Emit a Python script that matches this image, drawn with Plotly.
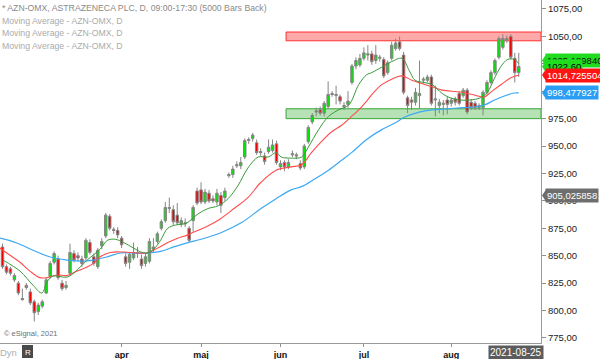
import pandas as pd
import plotly.graph_objects as go

# ---------------- data ----------------
holidays = ["2021-04-02", "2021-04-05", "2021-05-13", "2021-06-25"]
dates = [d for d in pd.bdate_range("2021-02-18", "2021-08-25") if d.strftime("%Y-%m-%d") not in holidays]

opens = [858, 840, 838, 828, 825, 811, 823, 817, 808, 799, 804, 816, 831, 844, 847, 825, 821, 834, 852, 850,
         847, 848, 862, 849, 840, 859, 868, 886, 874, 873, 866, 849, 844, 848, 852, 847, 843, 845, 856, 863,
         875, 882, 893, 892, 887, 879, 879, 875, 882, 909, 910, 899, 907, 902, 899, 905, 903, 923, 924, 932,
         932, 940, 955, 957, 953, 945, 941, 945, 946, 952, 931, 935, 931, 942, 942, 934, 931, 954, 972, 981,
         983, 980, 986, 998, 996, 995, 987, 988, 1008, 1023, 1024, 1030, 1033, 1034, 1028, 1030, 1029, 1017, 1030, 1039,
         1045, 1033, 994, 992, 990, 996, 1010, 1010, 1013, 992, 987, 988, 992, 989, 993, 998, 996, 1001, 990, 989,
         985, 985, 999, 1008, 1017, 1031, 1040, 1047, 1050, 1030, 1017]
highs = [861, 842, 840, 834, 827, 820, 825, 820, 810, 807, 810, 830, 845, 854, 850, 828, 827, 861, 855, 853,
         850, 866, 865, 852, 857, 866, 889, 888, 876, 876, 868, 852, 853, 862, 858, 851, 852, 866, 866, 872,
         883, 899, 903, 896, 898, 885, 884, 877, 896, 912, 917, 911, 910, 905, 911, 908, 912, 926, 932, 936,
         940, 957, 958, 962, 956, 948, 944, 956, 956, 955, 937, 937, 938, 946, 944, 937, 952, 969, 980, 985,
         986, 991, 1009, 1000, 1005, 997, 990, 1000, 1025, 1031, 1034, 1040, 1042, 1037, 1042, 1033, 1031, 1028, 1045, 1048,
         1050, 1036, 996, 995, 1003, 1028, 1013, 1015, 1015, 1005, 993, 992, 995, 994, 995, 1000, 1003, 1003, 993, 991,
         989, 1001, 1010, 1019, 1030, 1050, 1052, 1051, 1052, 1035, 1035]
lows = [838, 833, 832, 826, 814, 809, 819, 805, 790, 796, 802, 815, 829, 842, 828, 818, 819, 832, 844, 845,
        840, 846, 851, 841, 838, 856, 866, 873, 870, 866, 857, 840, 838, 846, 848, 838, 840, 843, 853, 861,
        873, 880, 889, 878, 878, 876, 876, 862, 872, 896, 897, 897, 898, 898, 896, 889, 900, 921, 921, 930,
        929, 938, 952, 954, 942, 941, 933, 943, 944, 933, 928, 927, 929, 940, 938, 928, 929, 952, 970, 977,
        978, 977, 984, 995, 988, 988, 983, 985, 1006, 1020, 1022, 1028, 1028, 1024, 1025, 1027, 1012, 1015, 1028, 1037,
        1037, 997, 980, 983, 987, 984, 1007, 1008, 987, 977, 980, 978, 979, 986, 987, 987, 994, 979, 983, 983,
        983, 978, 997, 1006, 1015, 1029, 1038, 1044, 1029, 1008, 1013]
closes = [840, 835, 834, 832, 816, 810, 821, 807, 798, 805, 808, 828, 843, 852, 830, 820, 823, 853, 846, 848,
          843, 864, 853, 843, 855, 863, 887, 875, 873, 869, 860, 843, 851, 853, 852.5, 841, 849, 863, 858, 870,
          881, 894, 894, 881, 880, 882, 880, 864, 894, 898, 899, 908, 900, 900, 907, 896, 909, 924, 929, 933,
          935, 955, 956, 960, 944, 944, 936, 949, 951, 935, 934, 931, 935, 943, 941, 930, 950, 967, 978, 982,
          980, 989, 997, 997, 997, 991, 986, 991, 1023, 1028, 1030, 1035, 1034, 1027, 1033, 1031, 1014, 1026, 1042, 1044,
          1039, 999, 987, 990, 999, 998, 1011, 1013, 989, 993, 990, 989, 988, 992, 990, 989, 1001, 981, 985, 985,
          987, 999, 1008, 1017, 1028, 1048, 1048, 1048, 1031, 1017, 1022.6]

# moving averages (bar position, value)
ma_short_x = [0.1, 4.4, 7.7, 9.9, 11.2, 12.7, 16.3, 18.8, 21.3, 24.6, 26.4, 28.4, 30.5, 33, 34.8, 36.5, 38.1, 39.8,
              41.6, 43.6, 46.2, 49.2, 51.7, 54.3, 56.8, 59.3, 61.8, 64.4, 66.9, 68.9, 70.2, 72.7, 75.3, 77, 79.6,
              82.1, 84.6, 87.2, 89.7, 91.7, 93, 95.5, 98, 100.6, 102.4, 103.9, 106.1, 108.2, 110.7, 112.7, 115.3,
              117.8, 120.3, 122.1, 123.9, 125.4, 127.2, 128.9, 130]
ma_short_y = [846, 836, 823, 816, 826, 831.5, 830.5, 837, 846, 856, 864, 865, 862, 857, 853.4, 852.5, 856, 864,
              875, 878, 879.5, 888, 893, 895.5, 902, 914, 930, 940, 940, 944, 940, 939, 940, 949, 965,
              977, 983, 987.5, 1006, 1015, 1017, 1022, 1027, 1030, 1019, 1010, 1008, 1006, 998, 994, 992,
              992, 994, 999, 1012, 1022, 1029, 1029, 1025.19]
ma_mid_x = [-0.7, 1.8, 4.4, 6.9, 9.4, 11.2, 13.7, 16.3, 18.8, 21.3, 22.9, 24.6, 27.2, 30.5, 34, 36.5, 39.1, 41.6,
            44.1, 46.7, 48.2, 51.7, 55, 58.3, 61.8, 65.1, 68.9, 72.7, 75.3, 77.8, 80.3, 82.9, 85.4, 87.9, 89.7,
            91.7, 93, 95.5, 98, 100.6, 103.1, 105.6, 108.2, 110.7, 115.3, 118.8, 121.3, 122.9, 125.4, 127.9, 130]
ma_mid_y = [857, 850.6, 844, 836, 830, 830, 832.4, 832, 836, 839.7, 843, 849, 853, 853.4, 852.5, 852.5, 857, 862,
            866, 869, 871.6, 877, 884, 893, 903, 917, 928, 931, 933, 944, 954, 963, 969, 977, 983,
            991, 997, 1006, 1011, 1014, 1010, 1007, 1004, 1001, 999.3, 996.6, 994.7, 999, 1005.7, 1012, 1014.73]
ma_long_x = [-0.7, 3.6, 7.7, 12, 16.3, 20.3, 22.9, 26.4, 29.7, 33, 36.5, 39.8, 43.1, 46.7, 50, 55, 60.1, 65.1,
             68.9, 72.7, 75.3, 78.6, 82.1, 85.4, 87.9, 91.7, 95.5, 98.8, 101.3, 104.9, 108.2, 111.5, 114.5,
             118.8, 121.3, 123.9, 126.4, 128.9, 130]
ma_long_y = [866, 861.6, 855, 848.8, 846, 845, 846, 849, 852.5, 852.5, 852.5, 854, 858, 862, 865, 871, 880, 893,
             902, 910, 913, 920, 928, 937, 944, 956, 965, 971, 976.5, 981, 983, 983.8, 984.7,
             985.6, 987.4, 992, 995.7, 998.4, 998.48]

resistance = [1046, 1054]
support = [975, 984]
zone_start = 71.4

y_ticks = [775, 800, 825, 850, 875, 900, 925, 950, 975, 1000, 1025, 1050, 1075]
hidden_ticks = [1000, 1025]  # covered by the value labels in the original
month_names = {4: "apr", 5: "maj", 6: "jun", 7: "jul", 8: "aug"}

price_labels = [  # value, text, background, text colour, vertical nudge (px)
    (1025.189840, "1025,189840", "#1fdc1f", "#111111", 3),
    (1022.60, "1022,60", "#1fdc1f", "#000000", 0),
    (1014.725504, "1014,725504", "#ff1414", "#ffffff", 0),
    (998.477927, "998,477927", "#2a9df4", "#ffffff", 0),
    (905.025858, "905,025858", "#6e6e6e", "#ffffff", 0),
]

# ---------------- figure ----------------
idx = list(range(len(dates)))
FONT = "Liberation Sans, Arial, sans-serif"
W_PLOT = 541.0
H_PLOT = 343.0
y_range = [770.4, 1083.2]
x_range = [-0.63, 135.6]
ppp = (y_range[1] - y_range[0]) / H_PLOT  # price per pixel

fig = go.Figure()
fig.add_trace(go.Scatter(x=ma_long_x, y=ma_long_y, mode="lines", line=dict(color="#3ba9f5", width=1.2, shape="spline"), hoverinfo="skip"))
fig.add_trace(go.Scatter(x=ma_mid_x, y=ma_mid_y, mode="lines", line=dict(color="#ff4d4d", width=1.1, shape="spline"), hoverinfo="skip"))
fig.add_trace(go.Scatter(x=ma_short_x, y=ma_short_y, mode="lines", line=dict(color="#3a9a3a", width=1.0, shape="spline"), hoverinfo="skip"))
fig.add_trace(go.Candlestick(
    x=idx, open=opens, high=highs, low=lows, close=closes,
    increasing=dict(line=dict(color="#858585", width=1), fillcolor="#00e600"),
    decreasing=dict(line=dict(color="#858585", width=1), fillcolor="#f00000"),
    whiskerwidth=0,
))

shapes = [
    dict(type="rect", xref="x", yref="y", x0=zone_start, x1=x_range[1], y0=resistance[0], y1=resistance[1],
         fillcolor="#ffaaaa", line=dict(color="#ff3030", width=1), layer="below"),
    dict(type="rect", xref="x", yref="y", x0=zone_start, x1=x_range[1], y0=support[0], y1=support[1],
         fillcolor="#b6e2b6", line=dict(color="#3aa63a", width=1), layer="below"),
]

annotations = []
for val, txt, bg, fg, nudge in price_labels:
    c = val + nudge * ppp
    half = 6 * ppp
    x_tip = 1 + 1.0 / W_PLOT
    x_base = 1 + 5 / W_PLOT
    shapes.append(dict(type="path", xref="paper", yref="y",
                       path=f"M {x_tip},{c} L {x_base},{c + half} L {x_base},{c - half} Z",
                       fillcolor=bg, line=dict(width=0), layer="above"))
    annotations.append(dict(x=1, xref="paper", xanchor="left", xshift=4, y=val, yref="y", yanchor="middle",
                            yshift=nudge, text=txt, showarrow=False, bgcolor=bg, borderpad=1,
                            font=dict(family=FONT, size=9.5, color=fg)))

legend_lines = [
    ("* AZN-OMX, ASTRAZENECA PLC, D, 09:00-17:30 (5000 Bars Back)", "#8a8a8a", 8),
    ("Moving Average - AZN-OMX, D", "#ababab", 21),
    ("Moving Average - AZN-OMX, D", "#ababab", 33.5),
    ("Moving Average - AZN-OMX, D", "#ababab", 46),
]
for txt, col, py in legend_lines:
    annotations.append(dict(x=0, xref="paper", xanchor="left", xshift=0, y=1 - py / H_PLOT, yref="paper",
                            yanchor="middle", text=txt, showarrow=False,
                            font=dict(family=FONT, size=8.7, color=col)))

annotations.append(dict(x=0, xref="paper", xanchor="left", xshift=2, y=1 - 333 / H_PLOT, yref="paper",
                        yanchor="middle", text="© eSignal, 2021", showarrow=False,
                        font=dict(family=FONT, size=7.5, color="#6f6f6f")))
annotations.append(dict(x=0, xref="paper", xanchor="left", xshift=-2, y=-(352 - H_PLOT) / H_PLOT, yref="paper",
                        yanchor="middle", text="Dyn", showarrow=False,
                        font=dict(family=FONT, size=9.5, color="#b0b0b0")))
shapes.append(dict(type="rect", xref="paper", yref="paper", x0=22 / W_PLOT, x1=33 / W_PLOT,
                   y0=-(358 - H_PLOT) / H_PLOT, y1=-(345 - H_PLOT) / H_PLOT,
                   fillcolor="#4a4a4a", line=dict(width=0)))
annotations.append(dict(x=27.5 / W_PLOT, xref="paper", xanchor="center", y=-(352 - H_PLOT) / H_PLOT, yref="paper",
                        yanchor="middle", text="R", showarrow=False,
                        font=dict(family=FONT, size=8, color="#ffffff")))
annotations.append(dict(x=idx[-1], xref="x", xanchor="center", xshift=-3, y=0, yref="paper", yanchor="top", yshift=-2,
                        text=dates[-1].strftime("%Y-%m-%d"), showarrow=False, bgcolor="#5c5c5c", borderpad=1,
                        font=dict(family=FONT, size=10, color="#ffffff")))

# month ticks
tick_vals, tick_text = [], []
for i, d in enumerate(dates):
    if d.month in month_names and (i == 0 or dates[i - 1].month != d.month):
        tick_vals.append(i)
        tick_text.append(month_names[d.month])

fig.update_layout(
    width=600, height=359,
    margin=dict(l=0, r=59, t=0, b=16),
    paper_bgcolor="#ffffff", plot_bgcolor="#ffffff",
    showlegend=False, boxgap=0.12,
    shapes=shapes, annotations=annotations,
    font=dict(family=FONT),
    xaxis=dict(range=x_range, showgrid=False, zeroline=False, rangeslider=dict(visible=False),
               tickvals=tick_vals, ticktext=tick_text, ticks="outside", ticklen=3, tickcolor="#909090",
               showline=True, linecolor="#9a9a9a", linewidth=1, automargin=False,
               tickfont=dict(family=FONT, size=9, color="#111111", weight="bold")),
    yaxis=dict(range=y_range, side="right", showgrid=False, zeroline=False,
               tickvals=y_ticks,
               ticktext=["" if v in hidden_ticks else f"{v:.2f}".replace(".", ",") for v in y_ticks],
               ticks="outside", ticklen=4, tickcolor="#909090", automargin=False,
               showline=True, linecolor="#9a9a9a", linewidth=1,
               tickfont=dict(family=FONT, size=9.5, color="#222222")),
)

fig.write_html("out.html", config={"displayModeBar": False},
               post_script="document.body.style.margin='0';document.body.style.overflow='hidden';")
